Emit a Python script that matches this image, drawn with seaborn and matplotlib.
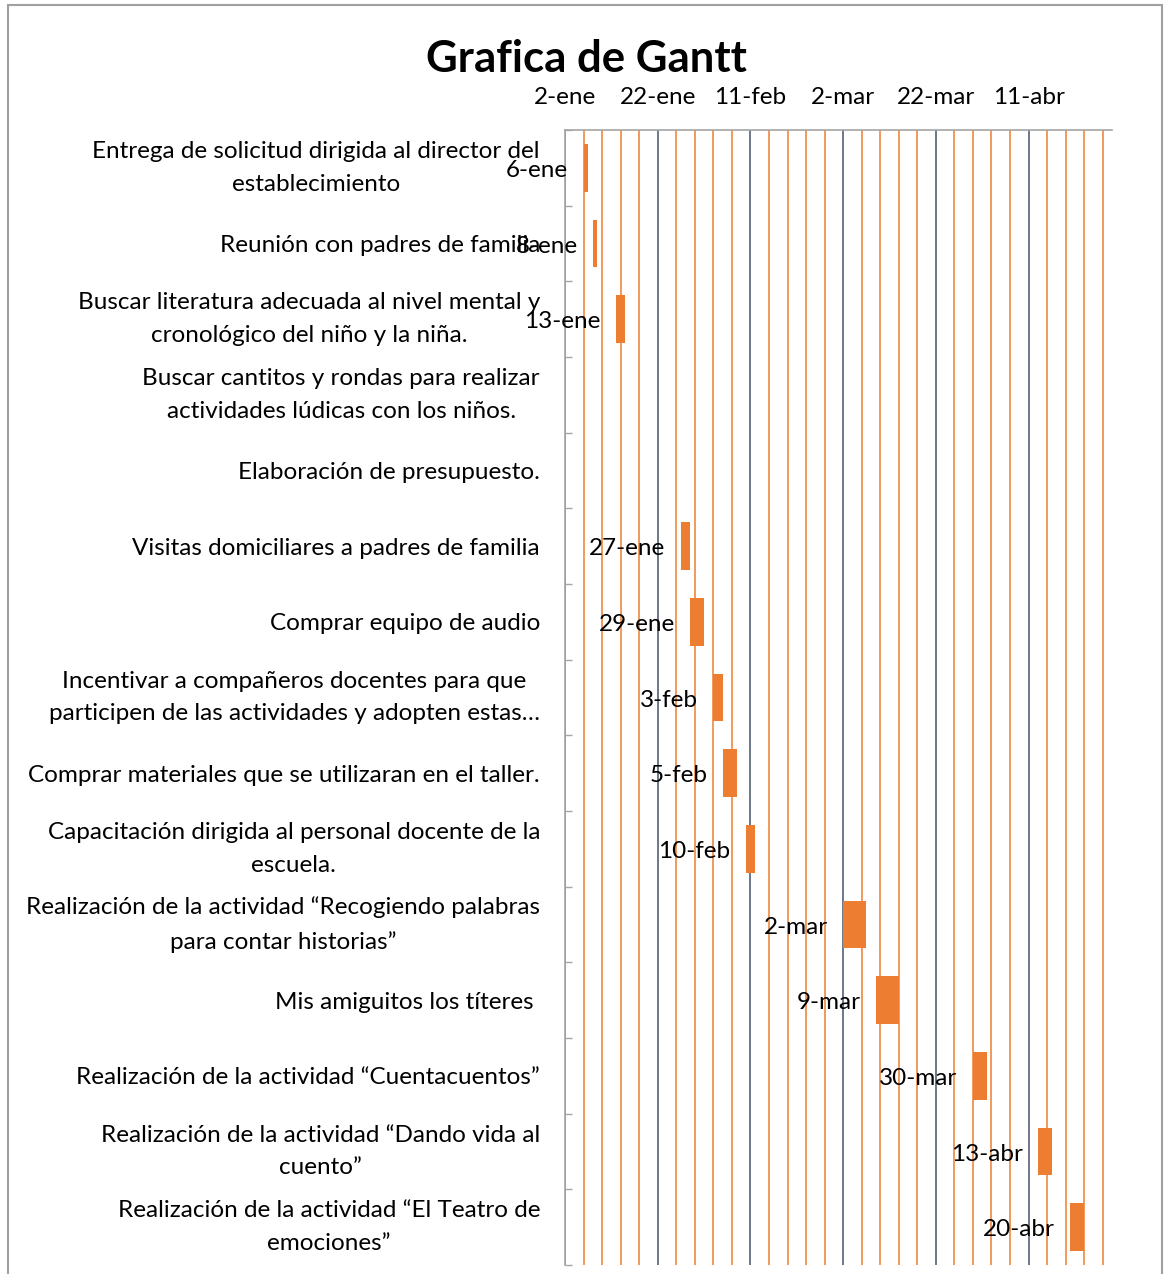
import numpy as np
import pandas as pd
import matplotlib
matplotlib.use("Agg")
import matplotlib.pyplot as plt
import matplotlib.dates as mdates
from matplotlib.ticker import FixedLocator, FuncFormatter
from matplotlib.patches import Rectangle
import seaborn as sns

# tasks (top to bottom), start date and duration in days
tasks = [
    "Entrega de solicitud dirigida al director del\nestablecimiento",
    "Reunión con padres de familia",
    "Buscar literatura adecuada al nivel mental y\ncronológico del niño y la niña.",
    "Buscar cantitos y rondas para realizar\nactividades lúdicas con los niños.",
    "Elaboración de presupuesto.",
    "Visitas domiciliares a padres de familia",
    "Comprar equipo de audio",
    "Incentivar a compañeros docentes para que\nparticipen de las actividades y adopten estas…",
    "Comprar materiales que se utilizaran en el taller.",
    "Capacitación dirigida al personal docente de la\nescuela.",
    "Realización de la actividad “Recogiendo palabras\npara contar historias”",
    "Mis amiguitos los títeres ",
    "Realización de la actividad “Cuentacuentos”",
    "Realización de la actividad “Dando vida al\ncuento”",
    "Realización de la actividad “El Teatro de\nemociones”",
]
start_dates = [
    "2020-01-06", "2020-01-08", "2020-01-13", None, None,
    "2020-01-27", "2020-01-29", "2020-02-03", "2020-02-05", "2020-02-10",
    "2020-03-02", "2020-03-09", "2020-03-30", "2020-04-13", "2020-04-20",
]
durations = [1, 1, 2, None, None, 2, 3, 2, 3, 2, 5, 5, 3, 3, 3]

axis_start = "2020-01-02"
axis_end = "2020-04-29"
major_step = 20   # days
minor_step = 4    # days
months_es = ["ene", "feb", "mar", "abr", "may", "jun",
             "jul", "ago", "sep", "oct", "nov", "dic"]

ORANGE = "#ED7D31"
NAVY = "#44546A"
GRAY = "#A6A6A6"
FS = 17.5

sns.set_theme(style="white")
plt.rcParams["font.family"] = ["Lato", "DejaVu Sans"]

df = pd.DataFrame({"task": tasks, "start": pd.to_datetime(start_dates), "dur": durations})
df["start_num"] = mdates.date2num(df["start"])
planned = df.dropna()


def fmt_date(x, pos=None):
    d = mdates.num2date(x)
    return f"{d.day}-{months_es[d.month - 1]}"


fig = plt.figure(figsize=(11.7, 12.74), dpi=100)
ax = fig.add_axes([565 / 1170, 1 - 1265 / 1274, (1112 - 565) / 1170, (1265 - 130) / 1274])

sns.barplot(data=df, x="dur", y="task", order=tasks, orient="h",
            color=ORANGE, saturation=1, width=0.63, errorbar=None,
            left=planned["start_num"].values, linewidth=0, ax=ax, zorder=3)

x0 = mdates.date2num(pd.Timestamp(axis_start))
x1 = mdates.date2num(pd.Timestamp(axis_end))
ax.set_xlim(x0, x1)
ax.set_ylim(len(tasks) - 0.5, -0.5)

ax.xaxis.set_major_locator(FixedLocator(np.arange(x0, x1, major_step)))
ax.xaxis.set_minor_locator(FixedLocator(np.arange(x0, x1, minor_step)))
ax.xaxis.set_major_formatter(FuncFormatter(fmt_date))
ax.xaxis.tick_top()
ax.tick_params(axis="x", which="both", length=0, pad=16, labelsize=FS, colors="black")
ax.grid(axis="x", which="minor", color=ORANGE, linewidth=1.1, zorder=1)
ax.grid(axis="x", which="major", color=NAVY, linewidth=1.1, zorder=1)
ax.set_axisbelow(True)

ax.set_yticks(np.arange(-0.5, len(tasks)), minor=True)
ax.tick_params(axis="y", which="major", length=0, pad=18, labelsize=FS, colors="black")
ax.tick_params(axis="y", which="minor", direction="in", length=5, width=1, color=GRAY, left=True)
for lab in ax.get_yticklabels():
    lab.set_multialignment("center")
    lab.set_linespacing(1.7)
    if "\n" in lab.get_text():
        lab.set_verticalalignment("center")

ax.set_xlabel("")
ax.set_ylabel("")
for side in ["right", "bottom"]:
    ax.spines[side].set_visible(False)
for side in ["top", "left"]:
    ax.spines[side].set_color(GRAY)
    ax.spines[side].set_linewidth(1.2)

# data labels: start date just left of each bar
for i, row in df.iterrows():
    if pd.isna(row["start"]):
        continue
    ax.annotate(fmt_date(row["start_num"]), (row["start_num"], i),
                xytext=(-11, -2), textcoords="offset points",
                ha="right", va="center", fontsize=FS, color="black", zorder=4)

fig.text(586 / 1170, 1 - 59 / 1274, "Grafica de Gantt", ha="center", va="center",
         fontsize=31.5, fontweight="bold", color="black")

# chart area border
fig.patches.append(Rectangle((8 / 1170, -0.01), (1162 - 8) / 1170, 1.01 - 5 / 1274,
                             transform=fig.transFigure, fill=False,
                             edgecolor="#A0A0A0", linewidth=1.5))

fig.savefig("out.png", dpi=100)
